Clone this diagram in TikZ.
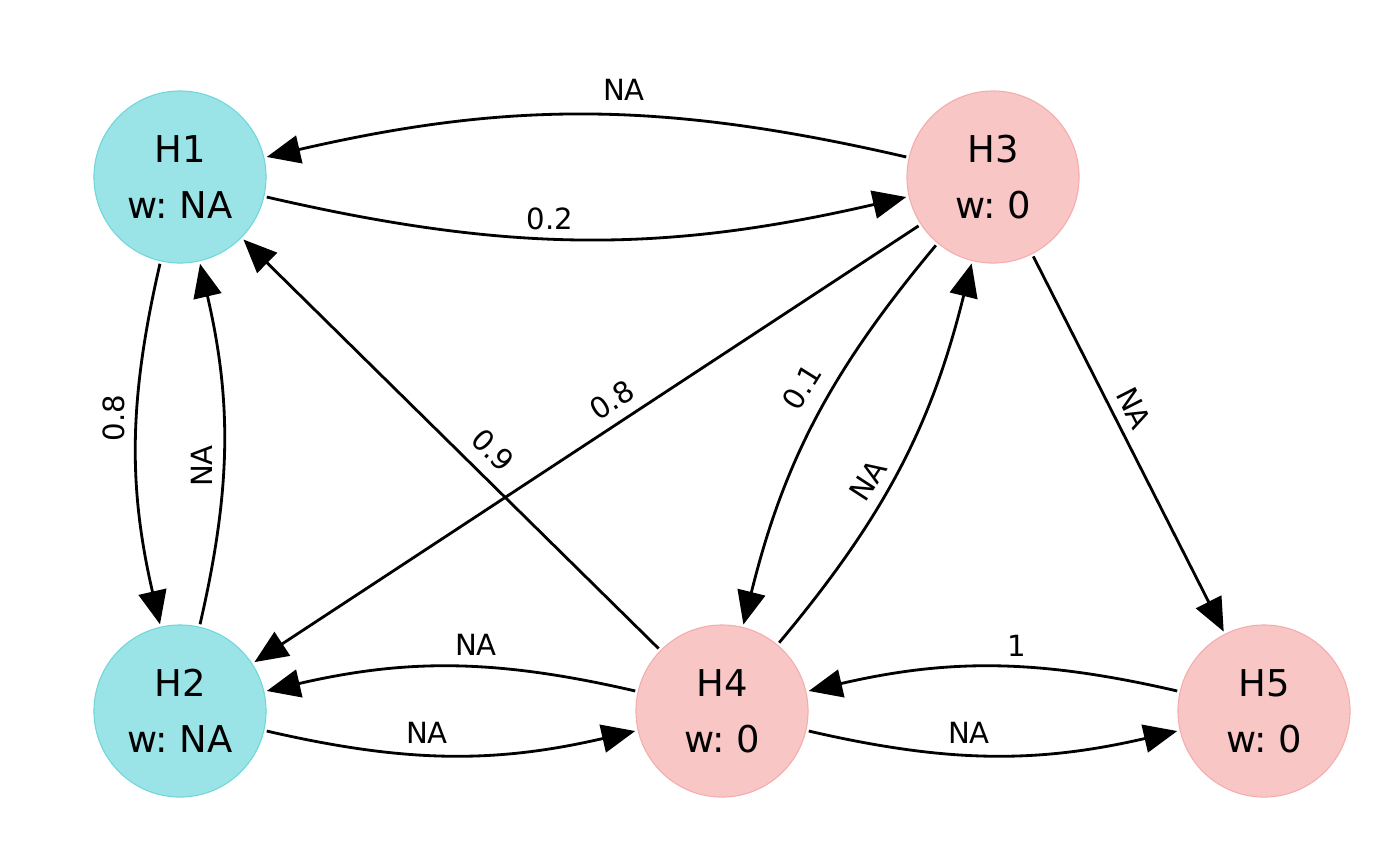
\documentclass[tikz,border=0pt]{standalone}
\usepackage{fontspec}
\setmainfont{DejaVu Sans}
\usetikzlibrary{arrows.meta}
\frenchspacing
\definecolor{cyanfill}{RGB}{154,228,231}
\definecolor{cyanline}{RGB}{112,214,218}
\definecolor{pinkfill}{RGB}{249,198,198}
\definecolor{pinkline}{RGB}{245,172,172}
\tikzset{
  hnode/.style={circle, minimum size=1.72cm, inner sep=0pt, outer sep=0.03cm, line width=0.3pt, align=center, font=\fontsize{10.5}{16}\selectfont},
  cyannode/.style={hnode, draw=cyanline, fill=cyanfill},
  pinknode/.style={hnode, draw=pinkline, fill=pinkfill},
  edge/.style={draw=black, line width=0.8pt, -{Triangle[length=9.5pt,width=8pt]}},
  elabel/.style={font=\fontsize{8.3}{10}\selectfont, inner sep=0pt}
}
\begin{document}
\begin{tikzpicture}[x=0.01cm,y=-0.01cm]
\useasboundingbox (0,0) rectangle (1400,866);
\node[cyannode] (H1) at (180,177) {H1\\w: NA};
\node[cyannode] (H2) at (180,711) {H2\\w: NA};
\node[pinknode] (H3) at (993,177) {H3\\w: 0};
\node[pinknode] (H4) at (722,711) {H4\\w: 0};
\node[pinknode] (H5) at (1264,711) {H5\\w: 0};

\draw[edge] (H3) to[bend right=13] (H1);
\draw[edge] (H1) to[bend right=13] (H3);
\draw[edge] (H1) to[bend right=13] (H2);
\draw[edge] (H2) to[bend right=13] (H1);
\draw[edge] (H4) -- (H1);
\draw[edge] (H3) -- (H2);
\draw[edge] (H3) to[bend right=13] (H4);
\draw[edge] (H4) to[bend right=13] (H3);
\draw[edge] (H3) -- (H5);
\draw[edge] (H5) to[bend right=13] (H4);
\draw[edge] (H4) to[bend right=13] (H2);
\draw[edge] (H2) to[bend right=13] (H4);
\draw[edge] (H4) to[bend right=13] (H5);

\node[elabel] (l31) at (624,90) {NA};
\node[elabel] (l13) at (550,219) {0.2};
\node[elabel, rotate=90] (l12) at (114,418) {0.8};
\node[elabel, rotate=90] (l21) at (202,466) {NA};
\node[elabel, rotate=-45] (l41) at (493,450) {0.9};
\node[elabel, rotate=33] (l32) at (612,400) {0.8};
\node[elabel, rotate=58] (l34) at (802,387) {0.1};
\node[elabel, rotate=57] (l43) at (868,480) {NA};
\node[elabel, rotate=-63] (l35) at (1134,408) {NA};
\node[elabel] (l54) at (1017,646) {1};
\node[elabel] (l42) at (476,645) {NA};
\node[elabel] (l24) at (427,733) {NA};
\node[elabel] (l45) at (969,733) {NA};
\end{tikzpicture}
\end{document}
